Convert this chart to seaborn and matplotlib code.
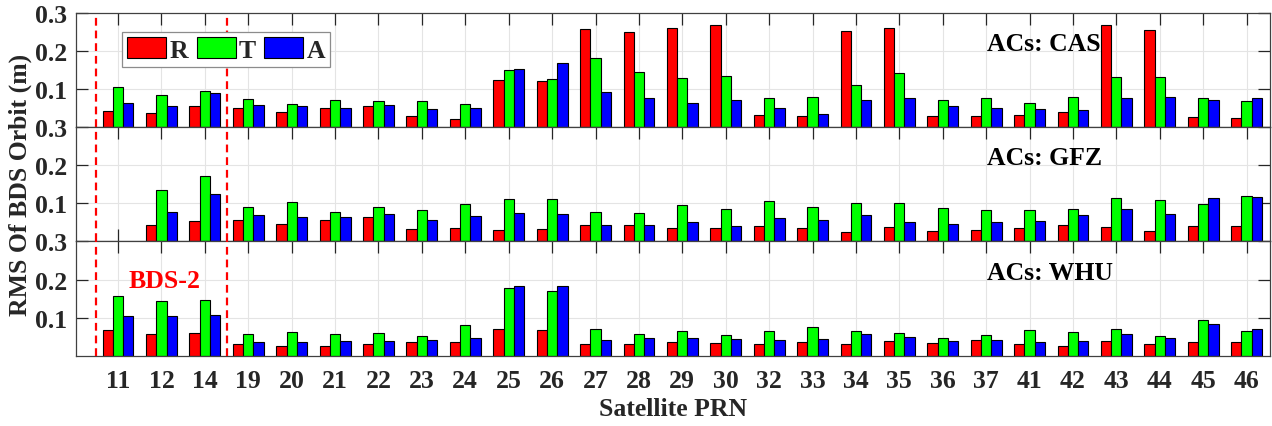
import numpy as np
import pandas as pd
import matplotlib.pyplot as plt
import seaborn as sns

# RMS of BDS orbit (m) per satellite, R/T/A components, for each AC
prns = ['11', '12', '14', '19', '20', '21', '22', '23', '24', '25', '26', '27', '28', '29',
        '30', '32', '33', '34', '35', '36', '37', '41', '42', '43', '44', '45', '46']
comps = ['R', 'T', 'A']
acs = ['CAS', 'GFZ', 'WHU']

cas_r = [0.041, 0.037, 0.054, 0.050, 0.039, 0.051, 0.054, 0.030, 0.021, 0.123, 0.121, 0.256, 0.249, 0.259,
         0.268, 0.032, 0.030, 0.253, 0.261, 0.028, 0.028, 0.031, 0.039, 0.268, 0.255, 0.027, 0.024]
cas_t = [0.106, 0.085, 0.095, 0.073, 0.061, 0.072, 0.069, 0.067, 0.061, 0.150, 0.127, 0.180, 0.145, 0.128,
         0.135, 0.076, 0.078, 0.111, 0.143, 0.072, 0.075, 0.064, 0.078, 0.132, 0.132, 0.075, 0.067]
cas_a = [0.064, 0.054, 0.090, 0.057, 0.054, 0.051, 0.057, 0.048, 0.051, 0.152, 0.169, 0.093, 0.076, 0.062,
         0.070, 0.051, 0.035, 0.072, 0.075, 0.054, 0.050, 0.046, 0.045, 0.077, 0.078, 0.070, 0.075]

gfz_r = [np.nan, 0.042, 0.053, 0.057, 0.046, 0.057, 0.063, 0.033, 0.035, 0.030, 0.032, 0.042, 0.044, 0.035,
         0.035, 0.040, 0.035, 0.025, 0.037, 0.026, 0.030, 0.034, 0.043, 0.037, 0.027, 0.040, 0.041]
gfz_t = [np.nan, 0.134, 0.171, 0.091, 0.103, 0.077, 0.090, 0.083, 0.097, 0.110, 0.110, 0.076, 0.073, 0.094,
         0.086, 0.106, 0.090, 0.101, 0.100, 0.087, 0.081, 0.083, 0.085, 0.114, 0.108, 0.097, 0.118]
gfz_a = [np.nan, 0.076, 0.123, 0.069, 0.065, 0.065, 0.071, 0.056, 0.067, 0.073, 0.071, 0.044, 0.042, 0.050,
         0.040, 0.060, 0.056, 0.069, 0.050, 0.046, 0.050, 0.053, 0.070, 0.085, 0.071, 0.113, 0.115]

whu_r = [0.067, 0.056, 0.059, 0.030, 0.025, 0.025, 0.030, 0.037, 0.036, 0.070, 0.067, 0.031, 0.031, 0.036,
         0.034, 0.030, 0.036, 0.031, 0.039, 0.034, 0.041, 0.032, 0.025, 0.039, 0.030, 0.037, 0.037]
whu_t = [0.156, 0.143, 0.147, 0.057, 0.063, 0.057, 0.059, 0.051, 0.081, 0.177, 0.170, 0.070, 0.057, 0.065,
         0.054, 0.065, 0.076, 0.065, 0.060, 0.046, 0.054, 0.067, 0.061, 0.069, 0.053, 0.095, 0.064]
whu_a = [0.103, 0.103, 0.108, 0.037, 0.037, 0.038, 0.038, 0.040, 0.046, 0.184, 0.182, 0.040, 0.046, 0.046,
         0.044, 0.040, 0.044, 0.058, 0.048, 0.039, 0.041, 0.037, 0.039, 0.058, 0.046, 0.083, 0.070]

values = {
    'CAS': {'R': cas_r, 'T': cas_t, 'A': cas_a},
    'GFZ': {'R': gfz_r, 'T': gfz_t, 'A': gfz_a},
    'WHU': {'R': whu_r, 'T': whu_t, 'A': whu_a},
}

rows = []
for ac in acs:
    for c in comps:
        for p, v in zip(prns, values[ac][c]):
            rows.append({'AC': ac, 'PRN': p, 'Comp': c, 'RMS': v})
df = pd.DataFrame(rows)

sns.set_theme(style="white")
plt.rcParams['font.family'] = ['Liberation Serif', 'DejaVu Serif']
plt.rcParams['font.weight'] = 'bold'
plt.rcParams['axes.labelweight'] = 'bold'

palette = {'R': '#ff0000', 'T': '#00ff00', 'A': '#0000ff'}
fs = 18.5
dark = '#262626'

fig = plt.figure(figsize=(12.72, 4.27), dpi=100)
left, width, height = 0.0594, 0.9390, 0.2677
bottoms = [0.7002, 0.4326, 0.1646]
axes = [fig.add_axes([left, b, width, height]) for b in bottoms]

for i, (ax, ac) in enumerate(zip(axes, acs)):
    sub = df[df['AC'] == ac]
    sns.barplot(data=sub, x='PRN', y='RMS', hue='Comp', order=prns, hue_order=comps,
                palette=palette, saturation=1, width=0.71, edgecolor='black', linewidth=0.8,
                errorbar=None, legend=(i == 0), ax=ax)

    ax.set_xlim(-0.98, 26.54)
    ax.set_ylim(0, 0.3)
    ax.set_yticks([0.1, 0.2, 0.3])
    ax.set_yticklabels(['0.1', '0.2', '0.3'])
    ax.set_xlabel('')
    ax.set_ylabel('')

    # light grid behind the bars
    ax.grid(False)
    for x in range(len(prns)):
        ax.axvline(x, color='#e4e4e4', lw=0.8, zorder=0)
    for y in [0.1, 0.2]:
        ax.axhline(y, color='#e4e4e4', lw=0.8, zorder=0)

    ax.tick_params(axis='both', direction='in', length=8.6, width=0.9, colors=dark,
                   labelsize=fs, top=True, bottom=True, left=True, right=True)
    ax.tick_params(axis='x', pad=9.5, labelbottom=(i == 2))
    ax.tick_params(axis='y', pad=6)
    for s in ax.spines.values():
        s.set_visible(True)
        s.set_color('#404040')
        s.set_linewidth(0.9)

    # BDS-2 boundaries
    for xv in [-0.5, 2.5]:
        ax.axvline(xv, color='red', lw=1.6, ls=(0, (3.5, 2.2)), zorder=3)

    ax.text(0.763, 0.73, f'ACs: {ac}', transform=ax.transAxes, ha='left', va='center',
            fontsize=fs, fontweight='bold', color='black')

axes[2].text(1.08, 0.197, 'BDS-2', ha='center', va='center', color='red',
             fontsize=fs, fontweight='bold')

sns.move_legend(axes[0], 'upper left', bbox_to_anchor=(0.039, 0.8285), ncol=3, title=None,
                frameon=True, borderaxespad=0, handlelength=1.52, handleheight=0.85,
                handletextpad=0.12, columnspacing=0.33, borderpad=0.2, fontsize=fs,
                fancybox=False, edgecolor='#8c8c8c', framealpha=1)
leg = axes[0].get_legend()
leg.get_frame().set_linewidth(0.9)
for h in leg.legend_handles:
    h.set_edgecolor('black')
    h.set_linewidth(0.8)

axes[1].set_ylabel('RMS Of BDS Orbit (m)', fontsize=fs, fontweight='bold', color=dark, labelpad=2)
axes[2].set_xlabel('Satellite PRN', fontsize=fs, fontweight='bold', color=dark, labelpad=4)

fig.savefig('out.png', dpi=100)
